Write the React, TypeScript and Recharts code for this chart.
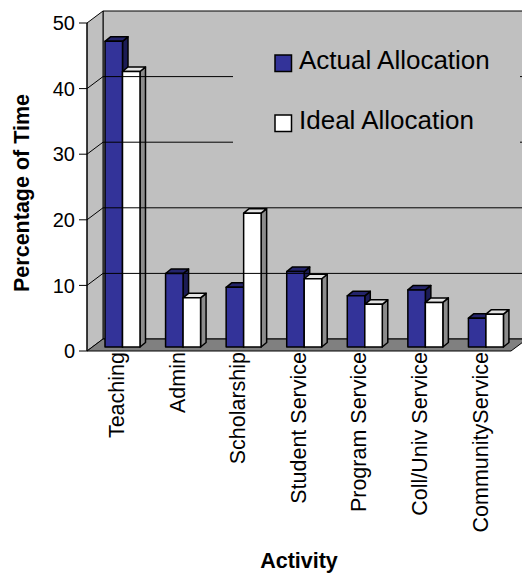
import {
  BarChart,
  Bar,
  XAxis,
  YAxis,
  Legend,
  ReferenceArea,
  ReferenceLine,
} from "recharts";

const activities = [
  "Teaching",
  "Admin",
  "Scholarship",
  "Student Service",
  "Program Service",
  "Coll/Univ Service",
  "CommunityService",
];
const actualAllocation = [46.6, 11.2, 9.1, 11.5, 7.8, 8.7, 4.4];
const idealAllocation = [42.0, 7.5, 20.4, 10.4, 6.5, 6.8, 5.0];
const yTicks = [0, 10, 20, 30, 40, 50];
const gridValues = [10, 20, 30, 40];

const data = activities.map((activity, i) => ({
  activity,
  actual: actualAllocation[i],
  ideal: idealAllocation[i],
}));

const FONT = "Arial, 'Liberation Sans', sans-serif";

// depth of the walls (back plane offset from the front plane)
const WALL_DX = 16;
const WALL_DY = 12;
// bars stand a little way into the floor
const BAR_DX = 5;
const BAR_DY = 4;
// thickness of each bar's box
const BOX_DX = 5.5;
const BOX_DY = 4.5;

function Walls({ x, y, width, height }: any) {
  const l = x;
  const r = x + width;
  const t = y;
  const b = y + height;
  return (
    <g>
      {/* back wall */}
      <polygon
        points={`${l + WALL_DX},${t - WALL_DY} ${r + WALL_DX},${t - WALL_DY} ${r + WALL_DX},${b - WALL_DY} ${l + WALL_DX},${b - WALL_DY}`}
        fill="#c0c0c0"
        stroke="#000"
        strokeWidth={1}
      />
      {/* side wall */}
      <polygon
        points={`${l},${t} ${l + WALL_DX},${t - WALL_DY} ${l + WALL_DX},${b - WALL_DY} ${l},${b}`}
        fill="#c0c0c0"
        stroke="#000"
        strokeWidth={1}
      />
      {/* floor */}
      <polygon
        points={`${l},${b} ${l + WALL_DX},${b - WALL_DY} ${r + WALL_DX},${b - WALL_DY} ${r},${b}`}
        fill="#808080"
        stroke="#000"
        strokeWidth={1}
      />
    </g>
  );
}

function GridLine3D({ x1, y1, x2 }: any) {
  return (
    <polyline
      points={`${x1},${y1} ${x1 + WALL_DX},${y1 - WALL_DY} ${x2 + WALL_DX},${y1 - WALL_DY}`}
      fill="none"
      stroke="#000"
      strokeWidth={1}
    />
  );
}

function Box3D({ x, y, width, height, fill, topFill, sideFill }: any) {
  if (height == null || width == null) return null;
  const fx = x + BAR_DX;
  const fy = y - BAR_DY;
  const w = width;
  const h = height;
  return (
    <g stroke="#000" strokeWidth={1.5} strokeLinejoin="round">
      <polygon
        points={`${fx + w},${fy} ${fx + w + BOX_DX},${fy - BOX_DY} ${fx + w + BOX_DX},${fy + h - BOX_DY} ${fx + w},${fy + h}`}
        fill={sideFill}
      />
      <polygon
        points={`${fx},${fy} ${fx + BOX_DX},${fy - BOX_DY} ${fx + w + BOX_DX},${fy - BOX_DY} ${fx + w},${fy}`}
        fill={topFill}
      />
      <rect x={fx} y={fy} width={w} height={h} fill={fill} />
    </g>
  );
}

function CategoryTick({ x, y, payload }: any) {
  return (
    <text
      x={x}
      y={y}
      dy="0.32em"
      transform={`rotate(-90 ${x} ${y})`}
      textAnchor="end"
      fontSize={21.5}
      fontFamily={FONT}
      fill="#000"
    >
      {payload.value}
    </text>
  );
}

function renderYTitle() {
  const cx = 22;
  const cy = 193;
  return (
    <text
      x={cx}
      y={cy}
      transform={`rotate(-90 ${cx} ${cy})`}
      textAnchor="middle"
      dominantBaseline="central"
      fontSize={21.5}
      fontWeight="bold"
      fontFamily={FONT}
      fill="#000"
    >
      Percentage of Time
    </text>
  );
}

function renderXTitle() {
  return (
    <text
      x={299}
      y={568}
      textAnchor="middle"
      fontSize={21.5}
      fontWeight="bold"
      fontFamily={FONT}
      fill="#000"
    >
      Activity
    </text>
  );
}

function LegendBox({ payload }: any) {
  const rows = payload || [];
  return (
    <div style={{ width: 287, height: 165, background: "#c0c0c0" }}>
      <svg width={287} height={165}>
        {rows.map((entry: any, i: number) => {
          const top = 35 + i * 60;
          return (
            <g key={entry.value}>
              <rect
                x={42}
                y={top}
                width={16.5}
                height={16.5}
                fill={entry.color}
                stroke="#000"
                strokeWidth={1.5}
              />
              <text
                x={66}
                y={top + 13.5}
                fontSize={26}
                fontFamily={FONT}
                fill="#000"
              >
                {entry.value}
              </text>
            </g>
          );
        })}
      </svg>
    </div>
  );
}

export default function App() {
  return (
    <div style={{ position: "absolute", left: 0, top: 0, background: "#fff" }}>
      <BarChart
        width={522}
        height={576}
        data={data}
        margin={{ top: 23, right: 11, bottom: 0, left: 0 }}
        barGap={0}
        barSize={17.5}
      >
        <XAxis
          dataKey="activity"
          height={225}
          axisLine={false}
          tickLine={false}
          tickSize={0}
          tickMargin={1}
          interval={0}
          tick={<CategoryTick />}
          label={renderXTitle}
        />
        <YAxis
          domain={[0, 50]}
          ticks={yTicks}
          width={87}
          tickSize={8}
          tickMargin={4}
          interval={0}
          axisLine={{ stroke: "#000" }}
          tickLine={{ stroke: "#000" }}
          tick={{ fontSize: 20, fill: "#000", fontFamily: FONT }}
          label={renderYTitle}
        />
        <ReferenceArea y1={0} y2={50} shape={(p: any) => <Walls {...p} />} />
        {gridValues.map((v) => (
          <ReferenceLine key={v} y={v} shape={(p: any) => <GridLine3D {...p} />} />
        ))}
        <Legend
          layout="horizontal"
          align="center"
          verticalAlign="middle"
          width={287}
          height={165}
          wrapperStyle={{ left: 233, top: 20, width: 287, height: 165 }}
          content={<LegendBox />}
        />
        <Bar
          dataKey="actual"
          name="Actual Allocation"
          fill="#333399"
          isAnimationActive={false}
          shape={(p: any) => <Box3D {...p} topFill="#24246b" sideFill="#1c1c55" />}
        />
        <Bar
          dataKey="ideal"
          name="Ideal Allocation"
          fill="#ffffff"
          isAnimationActive={false}
          shape={(p: any) => <Box3D {...p} topFill="#e4e4e4" sideFill="#8c8c8c" />}
        />
      </BarChart>
    </div>
  );
}
